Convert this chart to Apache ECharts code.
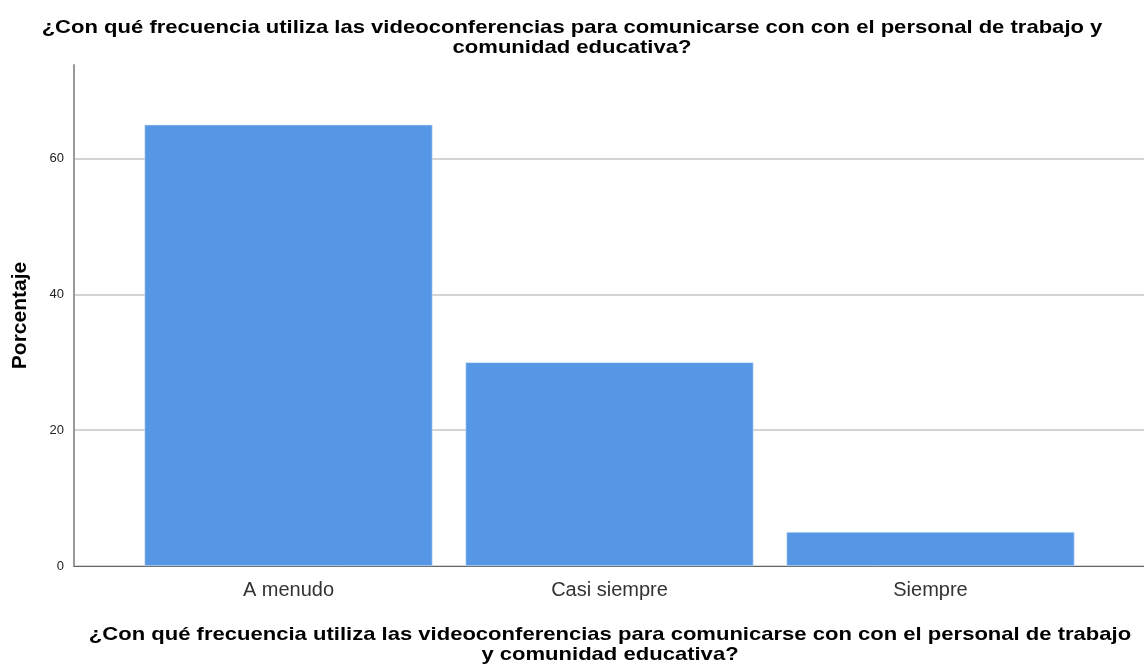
<!DOCTYPE html>
<html>
<head>
<meta charset="utf-8">
<script src="https://cdn.jsdelivr.net/npm/echarts@6/dist/echarts.min.js"></script>
<style>
  html, body { margin: 0; padding: 0; background: #fff; }
  #chart { width: 1144px; height: 666px; }
</style>
</head>
<body>
<div id="chart"></div>
<script>
const categories = ['A menudo', 'Casi siempre', 'Siempre'];
const porcentaje = [65, 30, 5];
const yTicks = [0, 20, 40, 60];

const titleText = '¿Con qué frecuencia utiliza las videoconferencias para comunicarse con con el personal de trabajo y\ncomunidad educativa?';
const xName = '¿Con qué frecuencia utiliza las videoconferencias para comunicarse con con el personal de trabajo\ny comunidad educativa?';

const font = '"Liberation Sans", Arial, sans-serif';
const yMax = 73.8;
// the original text is a little wider than Arial
const stretch = 1.16;

const chart = echarts.init(document.getElementById('chart'));

const option = {
  animation: false,
  textStyle: { fontFamily: font },
  graphic: [
    {
      type: 'text',
      x: 572,
      y: 37.5,
      scaleX: stretch,
      style: {
        text: titleText,
        font: 'bold 19px ' + font,
        lineHeight: 20,
        fill: '#000',
        align: 'center',
        verticalAlign: 'middle'
      }
    },
    {
      type: 'text',
      x: 610,
      y: 645,
      scaleX: stretch,
      style: {
        text: xName,
        font: 'bold 19px ' + font,
        lineHeight: 19.5,
        fill: '#000',
        align: 'center',
        verticalAlign: 'middle'
      }
    }
  ],
  grid: [
    { left: 74, right: 0, top: 65, bottom: 100 },
    { left: 128, right: 53, top: 65, bottom: 100 }
  ],
  xAxis: [
    {
      gridIndex: 0,
      type: 'category',
      data: categories,
      axisLine: { lineStyle: { color: '#666', width: 1 } },
      axisTick: { show: false },
      axisLabel: { show: false }
    },
    {
      gridIndex: 1,
      type: 'category',
      data: categories,
      axisLine: { show: false },
      axisTick: { show: false },
      axisLabel: { fontFamily: font, fontSize: 20, color: '#333', margin: 14 }
    }
  ],
  yAxis: [
    {
      gridIndex: 0,
      type: 'value',
      min: 0,
      max: yMax,
      interval: 20,
      axisLine: { show: true, lineStyle: { color: '#999', width: 2 } },
      axisTick: { show: false },
      axisLabel: {
        fontFamily: font, fontSize: 13, color: '#222', margin: 10,
        formatter: v => (yTicks.indexOf(v) >= 0 ? String(v) : '')
      },
      splitLine: { showMaxLine: false, lineStyle: { color: '#d4d4d4', width: 2 } },
      name: 'Porcentaje',
      nameLocation: 'middle',
      nameGap: 43,
      nameTextStyle: { fontFamily: font, fontSize: 21, fontWeight: 'bold', color: '#000' }
    },
    {
      gridIndex: 1,
      type: 'value',
      min: 0,
      max: yMax,
      show: false
    }
  ],
  series: [
    {
      type: 'bar',
      xAxisIndex: 1,
      yAxisIndex: 1,
      data: porcentaje,
      barCategoryGap: '10.3%',
      itemStyle: { color: '#5596e5', borderColor: '#cfe0f6', borderWidth: 0.6 }
    }
  ]
};

chart.setOption(option);
</script>
</body>
</html>
